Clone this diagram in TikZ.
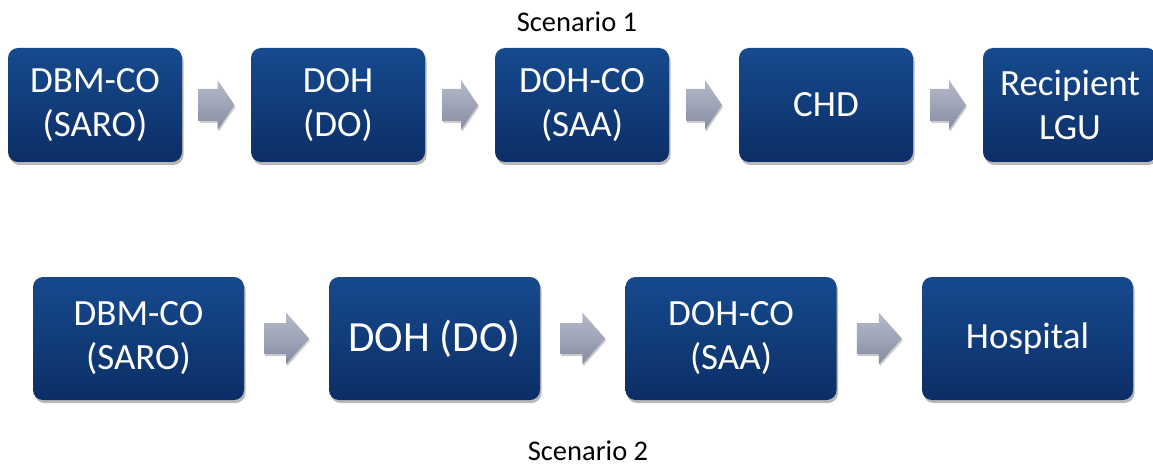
\documentclass[tikz,border=0pt]{standalone}
\usepackage{fontspec}
\setmainfont{Carlito}
\usetikzlibrary{shadows,calc}
\definecolor{boxtop}{RGB}{22,74,142}
\definecolor{boxbot}{RGB}{12,46,102}
\definecolor{arrtop}{RGB}{182,186,202}
\definecolor{arrbot}{RGB}{134,140,162}
\tikzset{
  flowbox/.style={rounded corners=10pt, top color=boxtop, bottom color=boxbot, draw=none,
    text=white, align=center, inner sep=0pt,
    drop shadow={shadow xshift=1.5pt, shadow yshift=-3pt, opacity=0.28, fill=black}},
  smallbox/.style={flowbox, minimum width=174pt, minimum height=114pt, font=\fontsize{37}{44}\selectfont},
  largebox/.style={flowbox, minimum width=211pt, minimum height=123pt, font=\fontsize{37}{44}\selectfont},
  arrfill/.style={top color=arrtop, bottom color=arrbot,
    drop shadow={shadow xshift=1pt, shadow yshift=-2pt, opacity=0.2, fill=black}},
  caption/.style={anchor=base, inner sep=0pt, text=black, font=\fontsize{28.5}{34}\selectfont}
}
% #1 mid coordinate, #2 length, #3 shaft height, #4 head height, #5 head length
\newcommand\blkarrow[5]{%
  \begin{scope}[shift={(#1)}]
    \path[arrfill] ({-#2/2},{-#3/2}) -- ({#2/2-#5},{-#3/2}) -- ({#2/2-#5},{-#4/2})
      -- ({#2/2},0) -- ({#2/2-#5},{#4/2}) -- ({#2/2-#5},{#3/2}) -- ({-#2/2},{#3/2}) -- cycle;
  \end{scope}}
\begin{document}
\begin{tikzpicture}[x=1pt,y=-1pt]
\useasboundingbox (0,0) rectangle (1153,465);
\fill[white] (0,0) rectangle (1153,465);

\node[caption] (s1) at (577,32) {Scenario 1};
\node[caption] (s2) at (588,460) {Scenario 2};

% Scenario 1
\node[smallbox] (a1) at (95,105) {DBM-CO\\(SARO)};
\node[smallbox] (a2) at (338,105) {DOH\\(DO)};
\node[smallbox] (a3) at (582,105) {DOH-CO\\(SAA)};
\node[smallbox] (a4) at (826,105) {CHD};
\node[smallbox] (a5) at (1070,105) {Recipient\\LGU};

\coordinate (m1) at ($(a1.east)!0.5!(a2.west)$);
\coordinate (m2) at ($(a2.east)!0.5!(a3.west)$);
\coordinate (m3) at ($(a3.east)!0.5!(a4.west)$);
\coordinate (m4) at ($(a4.east)!0.5!(a5.west)$);
\blkarrow{m1}{36}{32}{50}{17}
\blkarrow{m2}{36}{32}{50}{17}
\blkarrow{m3}{36}{32}{50}{17}
\blkarrow{m4}{36}{32}{50}{17}

% Scenario 2
\node[largebox] (b1) at (138.5,338.5) {DBM-CO\\(SARO)};
\node[largebox, font=\fontsize{43}{50}\selectfont] (b2) at (434.5,338.5) {DOH (DO)};
\node[largebox] (b3) at (731,338.5) {DOH-CO\\(SAA)};
\node[largebox] (b4) at (1027.5,338.5) {Hospital};

\coordinate (n1) at ($(b1.east)!0.5!(b2.west)$);
\coordinate (n2) at ($(b2.east)!0.5!(b3.west)$);
\coordinate (n3) at ($(b3.east)!0.5!(b4.west)$);
\blkarrow{n1}{45}{31}{52}{23}
\blkarrow{n2}{45}{31}{52}{23}
\blkarrow{n3}{45}{31}{52}{23}
\end{tikzpicture}
\end{document}
